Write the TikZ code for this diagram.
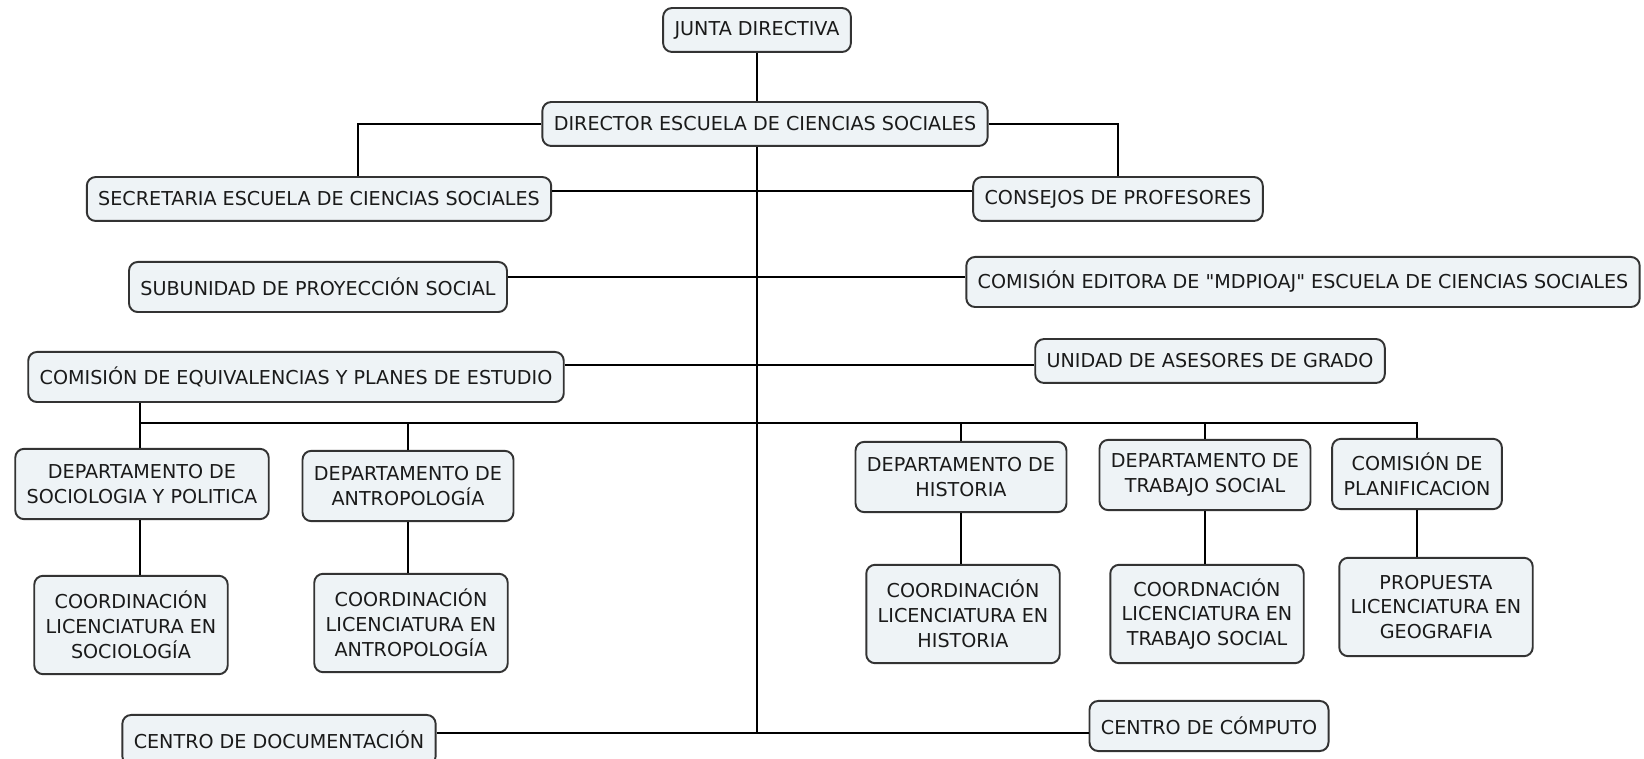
\documentclass[tikz,border=0pt]{standalone}
\usepackage{fontspec}
\setmainfont{DejaVu Sans}
\newfontfamily\plainQuote{DejaVu Sans}
\usepackage{xcolor}
\usepackage{tikz}
\usetikzlibrary{calc}
\definecolor{boxFill}{HTML}{EEF3F6}
\definecolor{boxLine}{HTML}{333333}
\definecolor{boxText}{HTML}{1A1A1A}

\begin{document}
\begin{tikzpicture}[
        x=0.02cm, y=-0.02cm,
        orgNode/.style={rectangle, rounded corners=5pt, draw=boxLine, fill=boxFill, line width=1.1pt,
        text=boxText, font=\fontsize{10.9}{14.2}\selectfont, inner xsep=6.5pt,
        minimum height=25pt, align=center},
        tallNode/.style={orgNode, minimum height=28.5pt},
        deptNode/.style={orgNode, minimum height=40pt},
        coordNode/.style={orgNode, minimum height=56pt},
        link/.style={black, line width=1.6pt},
    ]
    \useasboundingbox (0,0) rectangle (1644,759);
    \node[orgNode]   (juntaDir)     at (757,30)   {JUNTA DIRECTIVA};
    \node[orgNode]   (director)     at (765,124)  {DIRECTOR ESCUELA DE CIENCIAS SOCIALES};
    \node[orgNode]   (secretaria)   at (319,199)  {SECRETARIA ESCUELA DE CIENCIAS SOCIALES};
    \node[orgNode]   (consejos)     at (1118,199) {CONSEJOS DE PROFESORES};
    \node[tallNode]  (subProy)      at (318,287)  {SUBUNIDAD DE PROYECCIÓN SOCIAL};
    \node[tallNode]  (comEditora)   at (1303,282) {COMISIÓN EDITORA DE {\plainQuote"}MDPIOAJ{\plainQuote"} ESCUELA DE CIENCIAS SOCIALES};
    \node[tallNode]  (comEquiv)     at (296,377)  {COMISIÓN DE EQUIVALENCIAS Y PLANES DE ESTUDIO};
    \node[orgNode]   (uniAsesores)  at (1210,361) {UNIDAD DE ASESORES DE GRADO};
    \node[deptNode]  (deptSoc)      at (142,484)  {DEPARTAMENTO DE\\SOCIOLOGIA Y POLITICA};
    \node[deptNode]  (deptAntrop)   at (408,486)  {DEPARTAMENTO DE\\ANTROPOLOGÍA};
    \node[deptNode]  (deptHist)     at (961,477)  {DEPARTAMENTO DE\\HISTORIA};
    \node[deptNode]  (deptTrabajo)  at (1205,475) {DEPARTAMENTO DE\\TRABAJO SOCIAL};
    \node[deptNode]  (comPlanif)    at (1417,474) {COMISIÓN DE\\PLANIFICACION};
    \node[coordNode] (coordSoc)     at (131,625)  {COORDINACIÓN\\LICENCIATURA EN\\SOCIOLOGÍA};
    \node[coordNode] (coordAntrop)  at (411,623)  {COORDINACIÓN\\LICENCIATURA EN\\ANTROPOLOGÍA};
    \node[coordNode] (coordHist)    at (963,614)  {COORDINACIÓN\\LICENCIATURA EN\\HISTORIA};
    \node[coordNode] (coordTrabajo) at (1207,614) {COORDNACIÓN\\LICENCIATURA EN\\TRABAJO SOCIAL};
    \node[coordNode] (propGeo)      at (1436,607) {PROPUESTA\\LICENCIATURA EN\\GEOGRAFIA};
    \node[tallNode]  (centroDoc)    at (279,740)  {CENTRO DE DOCUMENTACIÓN};
    \node[tallNode]  (centroComp)   at (1209,726) {CENTRO DE CÓMPUTO};
    \coordinate (trunkEnd) at (757,733);
    \coordinate (busLeft)  at (140,423);
    \draw[link] (juntaDir) -- (juntaDir |- director.north);
    \draw[link] (juntaDir |- director.south) -- (trunkEnd);
    \draw[link] (director.west) -| ($(secretaria.north)+(39,0)$);
    \draw[link] (director.east) -| (consejos.north);
    \draw[link] ($(secretaria.east)+(0,-8)$) -- ($(consejos.west)+(0,-8)$);
    \draw[link] ($(subProy.east)+(0,-10)$) -- ($(comEditora.west)+(0,-5)$);
    \draw[link] ($(comEquiv.east)+(0,-12)$) -- ($(uniAsesores.west)+(0,4)$);
    \draw[link] (comEquiv.south -| busLeft) -- (deptSoc.north -| busLeft);
    \draw[link] (busLeft) -- (comPlanif.north |- busLeft) -- (comPlanif.north);
    \foreach \dept in {deptAntrop, deptHist, deptTrabajo}
        \draw[link] (\dept.north |- busLeft) -- (\dept.north);
    \draw[link] (deptSoc.south -| busLeft) -- (coordSoc.north -| busLeft);
    \draw[link] (deptAntrop.south) -- (deptAntrop.south |- coordAntrop.north);
    \draw[link] (deptHist.south) -- (deptHist.south |- coordHist.north);
    \draw[link] (deptTrabajo.south) -- (deptTrabajo.south |- coordTrabajo.north);
    \draw[link] (comPlanif.south) -- (comPlanif.south |- propGeo.north);
    \draw[link] (centroDoc.east |- trunkEnd) -- (centroComp.west |- trunkEnd);
\end{tikzpicture}
\end{document}
